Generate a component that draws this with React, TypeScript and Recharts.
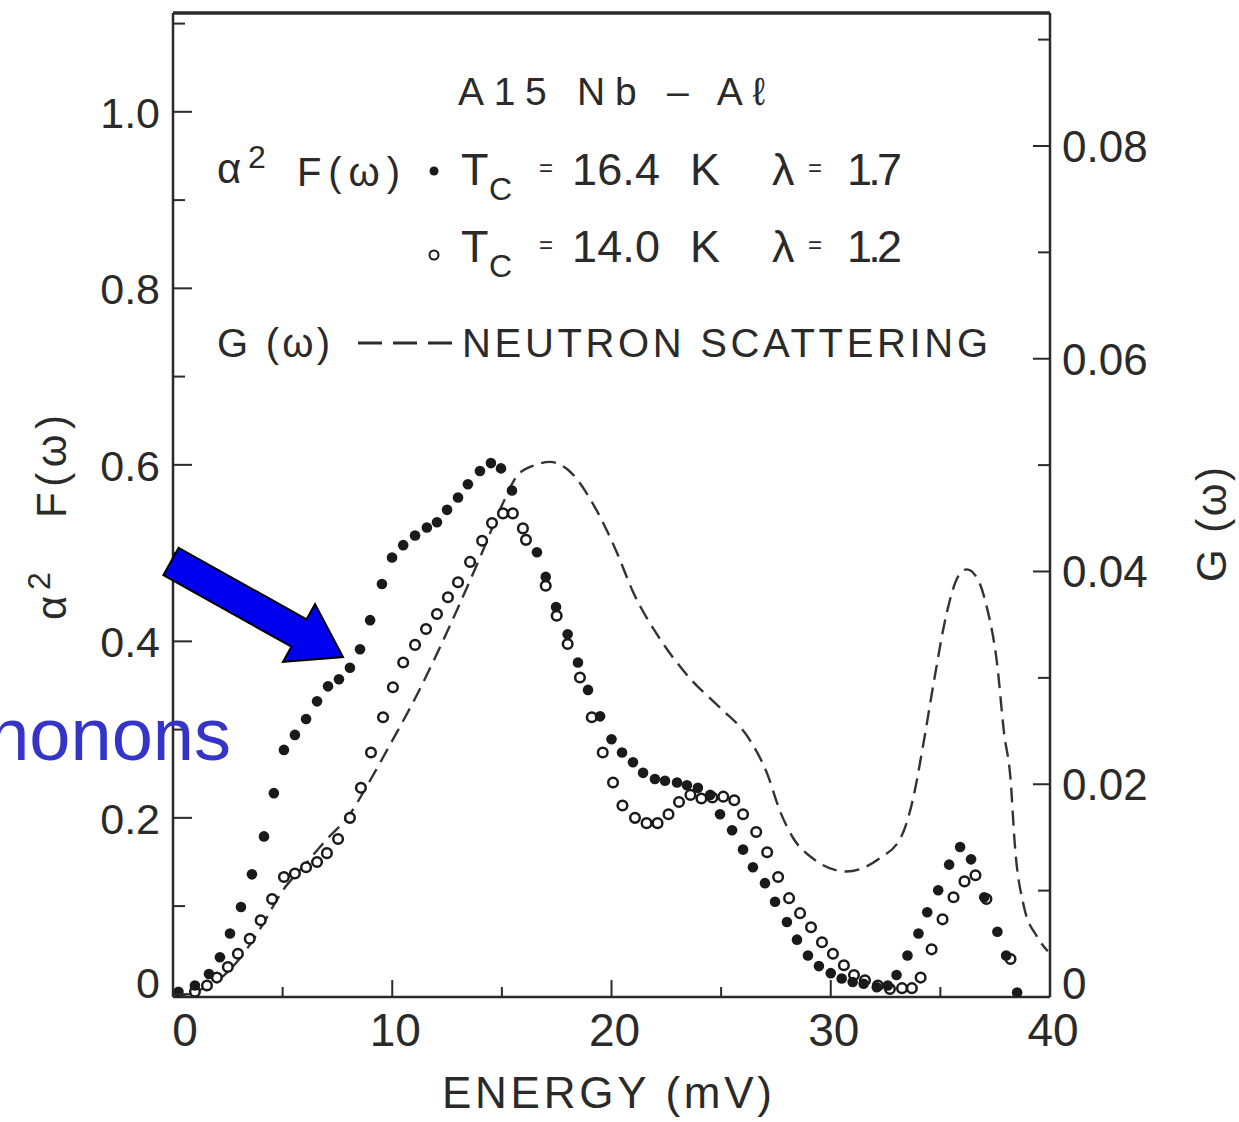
import React from 'react';
import { ComposedChart, Scatter, Line, XAxis, YAxis, ReferenceLine } from 'recharts';

// alpha^2 F(omega), filled dots: Tc = 16.4 K
const energyFilled = [
  0.25, 1.0, 1.64, 2.14, 2.6, 3.1, 3.6, 4.15, 4.6, 5.06, 5.56, 6.07, 6.57, 7.07, 7.57, 8.07, 8.53, 8.99,
  9.53, 9.99, 10.5, 11.04, 11.58, 12.04, 12.5, 13.0, 13.45, 14.0, 14.5, 14.96, 15.46, 16.6, 17.0, 17.47,
  18.0, 18.47, 18.93, 19.48, 20.0, 20.48, 20.98, 21.44, 21.98, 22.44, 22.99, 23.44, 23.94, 24.5, 24.95,
  25.5, 26.0, 26.45, 27.0, 27.46, 28.0, 28.46, 28.96, 29.46, 30.0, 30.5, 31.0, 31.5, 32.1, 32.6, 33.0,
  33.5, 34.0, 34.4, 34.9, 35.4, 35.9, 36.4, 37.0, 37.6, 38.0, 38.5,
];
const a2fFilled = [
  0.003, 0.01, 0.023, 0.042, 0.069, 0.099, 0.136, 0.179, 0.228, 0.277, 0.294, 0.312, 0.332, 0.349, 0.357,
  0.37, 0.391, 0.424, 0.465, 0.495, 0.509, 0.52, 0.529, 0.535, 0.549, 0.563, 0.578, 0.593, 0.602, 0.596,
  0.571, 0.501, 0.473, 0.439, 0.408, 0.376, 0.345, 0.315, 0.289, 0.274, 0.263, 0.251, 0.244, 0.242, 0.24,
  0.237, 0.234, 0.226, 0.204, 0.186, 0.164, 0.144, 0.126, 0.105, 0.082, 0.062, 0.044, 0.032, 0.024, 0.018,
  0.014, 0.012, 0.008, 0.01, 0.022, 0.044, 0.069, 0.093, 0.118, 0.147, 0.167, 0.153, 0.11, 0.071, 0.044,
  0.002,
];

// alpha^2 F(omega), open circles: Tc = 14.0 K
const energyOpen = [
  1.0, 1.55, 2.0, 2.5, 2.96, 3.5, 4.0, 4.52, 5.06, 5.56, 6.07, 6.57, 7.02, 7.53, 8.07, 8.57, 9.03, 9.58,
  10.03, 10.5, 11.04, 11.54, 12.04, 12.54, 13.0, 13.55, 14.1, 14.55, 15.05, 15.5, 15.96, 16.1, 17.0, 17.5,
  18.0, 18.56, 19.1, 19.6, 20.07, 20.5, 21.07, 21.6, 22.1, 22.6, 23.08, 23.6, 24.1, 24.6, 25.1, 25.6, 26.0,
  26.6, 27.1, 27.6, 28.1, 28.6, 29.1, 29.6, 30.1, 30.6, 31.06, 31.56, 32.15, 32.7, 33.25, 33.7, 34.1, 34.6,
  35.1, 35.6, 36.1, 36.6, 37.1, 38.2,
];
const a2fOpen = [
  0.003, 0.01, 0.019, 0.031, 0.046, 0.063, 0.084, 0.108, 0.133, 0.137, 0.144, 0.15, 0.16, 0.176, 0.2, 0.234,
  0.274, 0.314, 0.348, 0.376, 0.396, 0.414, 0.431, 0.45, 0.467, 0.49, 0.514, 0.534, 0.545, 0.545, 0.528,
  0.515, 0.463, 0.429, 0.397, 0.359, 0.314, 0.274, 0.24, 0.214, 0.2, 0.194, 0.194, 0.204, 0.218, 0.226,
  0.222, 0.223, 0.224, 0.22, 0.204, 0.184, 0.161, 0.133, 0.109, 0.092, 0.076, 0.059, 0.046, 0.033, 0.022,
  0.016, 0.01, 0.006, 0.007, 0.007, 0.019, 0.051, 0.085, 0.11, 0.128, 0.135, 0.108, 0.04,
];

// G(omega), neutron scattering (right axis)
const energyNeutron = [
  0, 1, 2, 3, 4, 5, 6, 7, 8, 9, 10, 11, 12, 13, 14, 15, 15.7, 16.5, 17.2, 18.1, 19.2, 20.2, 21.0, 22.2, 23.6,
  25.0, 26.2, 27.1, 27.7, 28.3, 29.2, 30.7, 32.2, 33.2, 33.75, 34.2, 34.7, 35.3, 35.8, 36.2, 36.7, 37.1,
  37.6, 37.9, 38.2, 38.4, 38.8, 39.4, 39.9,
];
const gNeutron = [
  0, 0.0005, 0.0015, 0.0035, 0.0065, 0.01, 0.0124, 0.0148, 0.017, 0.0204, 0.0241, 0.0279, 0.0321, 0.0366,
  0.0413, 0.0462, 0.049, 0.05, 0.0503, 0.0494, 0.0462, 0.042, 0.038, 0.0337, 0.0299, 0.0271, 0.0245, 0.021,
  0.0174, 0.0149, 0.013, 0.0118, 0.013, 0.015, 0.0186, 0.0235, 0.0296, 0.0362, 0.0395, 0.0402, 0.0393,
  0.0368, 0.0311, 0.0249, 0.0205, 0.0142, 0.0086, 0.0057, 0.0043,
];

const energyTicks = [0, 5, 10, 15, 20, 25, 30, 35, 40];
const a2fTicks = [0, 0.1, 0.2, 0.3, 0.4, 0.5, 0.6, 0.7, 0.8, 0.9, 1.0, 1.1];
const gTicks = [0, 0.01, 0.02, 0.03, 0.04, 0.05, 0.06, 0.07, 0.08, 0.09];
const A2F_MAX = 1.112;

const filledData = energyFilled.map((x, i) => ({ x, y: a2fFilled[i] }));
const openData = energyOpen.map((x, i) => ({ x, y: a2fOpen[i] }));
const neutronData = energyNeutron.map((x, i) => ({ x, g: gNeutron[i] }));

const INK = '#2a2a2a';
const FONT = '"Liberation Sans", Arial, sans-serif';

const LeftTick = (props: any) => {
  const { x, y, payload } = props;
  const v = payload.value;
  const major = Math.round(v * 10) % 2 === 0;
  const ax = x + 13;
  return (
    <g>
      <line x1={ax} x2={ax + (major ? 19 : 12)} y1={y} y2={y} stroke={INK} strokeWidth={2} />
      {major && (
        <text x={x} y={y + (v === 0 ? -12 : 0)} dy={16} textAnchor="end" fontSize={43} fill={INK} fontFamily={FONT}>
          {v === 0 ? '0' : v.toFixed(1)}
        </text>
      )}
    </g>
  );
};

const RightTick = (props: any) => {
  const { x, y, payload } = props;
  const v = payload.value;
  const major = Math.round(v * 100) % 2 === 0;
  const ax = x - 12;
  return (
    <g>
      <line x1={ax - (major ? 17 : 12)} x2={ax} y1={y} y2={y} stroke={INK} strokeWidth={2} />
      {major && (
        <text x={x} y={y + (v === 0 ? -14 : 0)} dy={16} textAnchor="start" fontSize={44} fill={INK} fontFamily={FONT}>
          {v === 0 ? '0' : v.toFixed(2)}
        </text>
      )}
    </g>
  );
};

const BottomTick = (props: any) => {
  const { x, y, payload } = props;
  const v = payload.value;
  const major = v % 10 === 0;
  const ay = y - 16;
  return (
    <g>
      <line x1={x} x2={x} y1={ay} y2={ay - (major ? 17 : 10)} stroke={INK} strokeWidth={2} />
      {major && (
        <text x={x + (v === 0 ? 12 : 3)} y={ay + 49} textAnchor="middle" fontSize={46} fill={INK} fontFamily={FONT}>
          {v}
        </text>
      )}
    </g>
  );
};

const FilledDot = (p: any) => <circle cx={p.cx} cy={p.cy} r={5.3} fill="#1a1a1a" />;
const OpenDot = (p: any) => <circle cx={p.cx} cy={p.cy} r={4.8} fill="#fff" stroke="#1a1a1a" strokeWidth={2.5} />;

const txt = { fill: INK, fontFamily: FONT } as const;

const Overlay = () => (
  <svg width={1239} height={1122} style={{ position: 'absolute', left: 0, top: 0, pointerEvents: 'none' }}>
    {/* legend block */}
    <text x={458} y={105} fontSize={39} textLength={307} lengthAdjust="spacing" {...txt}>A15 Nb – Aℓ</text>

    <text x={217} y={183} fontSize={42} {...txt}>α</text>
    <text x={248} y={168} fontSize={32} {...txt}>2</text>
    <text x={297} y={186} fontSize={40} textLength={103} lengthAdjust="spacing" {...txt}>F(ω)</text>
    <circle cx={434} cy={171} r={4.5} fill="#1a1a1a" />
    <text x={461} y={185} fontSize={45} {...txt}>T</text>
    <text x={489} y={200} fontSize={32} {...txt}>C</text>
    <text x={539} y={176} fontSize={24} {...txt}>=</text>
    <text x={572} y={185} fontSize={45} textLength={88} lengthAdjust="spacing" {...txt}>16.4</text>
    <text x={690} y={185} fontSize={45} {...txt}>K</text>
    <text x={772} y={185} fontSize={45} {...txt}>λ</text>
    <text x={808} y={176} fontSize={24} {...txt}>=</text>
    <text x={847} y={185} fontSize={45} textLength={55} lengthAdjust="spacing" {...txt}>1.7</text>

    <circle cx={434} cy={255} r={4.5} fill="#fff" stroke="#1a1a1a" strokeWidth={2} />
    <text x={461} y={262} fontSize={45} {...txt}>T</text>
    <text x={489} y={277} fontSize={32} {...txt}>C</text>
    <text x={539} y={253} fontSize={24} {...txt}>=</text>
    <text x={572} y={262} fontSize={45} textLength={88} lengthAdjust="spacing" {...txt}>14.0</text>
    <text x={690} y={262} fontSize={45} {...txt}>K</text>
    <text x={772} y={262} fontSize={45} {...txt}>λ</text>
    <text x={808} y={253} fontSize={24} {...txt}>=</text>
    <text x={847} y={262} fontSize={45} textLength={55} lengthAdjust="spacing" {...txt}>1.2</text>

    <text x={217} y={357} fontSize={40} textLength={113} lengthAdjust="spacing" {...txt}>G (ω)</text>
    <line x1={358} x2={452} y1={343} y2={343} stroke={INK} strokeWidth={3} strokeDasharray="24 11" />
    <text x={462} y={357} fontSize={40} textLength={526} lengthAdjust="spacing" {...txt}>NEUTRON SCATTERING</text>

    {/* axis titles */}
    <text x={442} y={1108} fontSize={44} textLength={330} lengthAdjust="spacing" {...txt}>ENERGY (mV)</text>
    <g transform="translate(66,620) rotate(-90)">
      <text x={0} y={0} fontSize={42} {...txt}>α</text>
      <text x={30} y={-16} fontSize={32} {...txt}>2</text>
      <text x={102} y={0} fontSize={42} textLength={103} lengthAdjust="spacing" {...txt}>F(ω)</text>
    </g>
    <g transform="translate(1226,582) rotate(-90)">
      <text x={0} y={0} fontSize={42} textLength={115} lengthAdjust="spacing" {...txt}>G (ω)</text>
    </g>

    {/* annotation */}
    <text x={231} y={760} fontSize={74} textAnchor="end" fill="#3434c8" fontFamily={FONT}>phonons</text>
    <polygon
      points="178.6,547.8 306.6,619.3 315,604.2 343,657 283,661.8 291.4,646.7 163.4,575.2"
      fill="#0000ee"
      stroke="#000"
      strokeWidth={2}
      strokeLinejoin="miter"
    />
  </svg>
);

export default function App() {
  return (
    <div style={{ position: 'absolute', left: 0, top: 0, width: 1239, height: 1122, background: '#fff' }}>
      <ComposedChart width={1239} height={1122} margin={{ top: 13, right: 69, bottom: 65, left: 83 }}>
        <XAxis
          xAxisId="e"
          dataKey="x"
          type="number"
          domain={[0, 40]}
          allowDataOverflow
          ticks={energyTicks}
          interval={0}
          height={60}
          tickSize={0}
          tickMargin={16}
          tick={<BottomTick />}
          axisLine={{ stroke: INK, strokeWidth: 2.5 }}
          tickLine={false}
        />
        <YAxis
          yAxisId="left"
          dataKey="y"
          type="number"
          domain={[-0.003, A2F_MAX]}
          allowDataOverflow
          ticks={a2fTicks}
          interval={0}
          width={90}
          tickSize={0}
          tickMargin={13}
          tick={<LeftTick />}
          tickLine={false}
          axisLine={{ stroke: INK, strokeWidth: 2.5 }}
        />
        <YAxis
          yAxisId="right"
          orientation="right"
          dataKey="g"
          type="number"
          domain={[0, 0.0925]}
          allowDataOverflow
          ticks={gTicks}
          interval={0}
          width={120}
          tickSize={0}
          tickMargin={12}
          tick={<RightTick />}
          tickLine={false}
          axisLine={{ stroke: INK, strokeWidth: 2.5 }}
        />
        <ReferenceLine xAxisId="e" yAxisId="left" y={A2F_MAX} stroke={INK} strokeWidth={3.5} />
        <Line
          data={neutronData}
          xAxisId="e"
          yAxisId="right"
          dataKey="g"
          type="monotone"
          stroke="#333"
          strokeWidth={2.4}
          strokeDasharray="15 8"
          dot={false}
          activeDot={false}
          isAnimationActive={false}
        />
        <Scatter data={openData} xAxisId="e" yAxisId="left" dataKey="y" shape={OpenDot} isAnimationActive={false} />
        <Scatter data={filledData} xAxisId="e" yAxisId="left" dataKey="y" shape={FilledDot} isAnimationActive={false} />
      </ComposedChart>
      <Overlay />
    </div>
  );
}
